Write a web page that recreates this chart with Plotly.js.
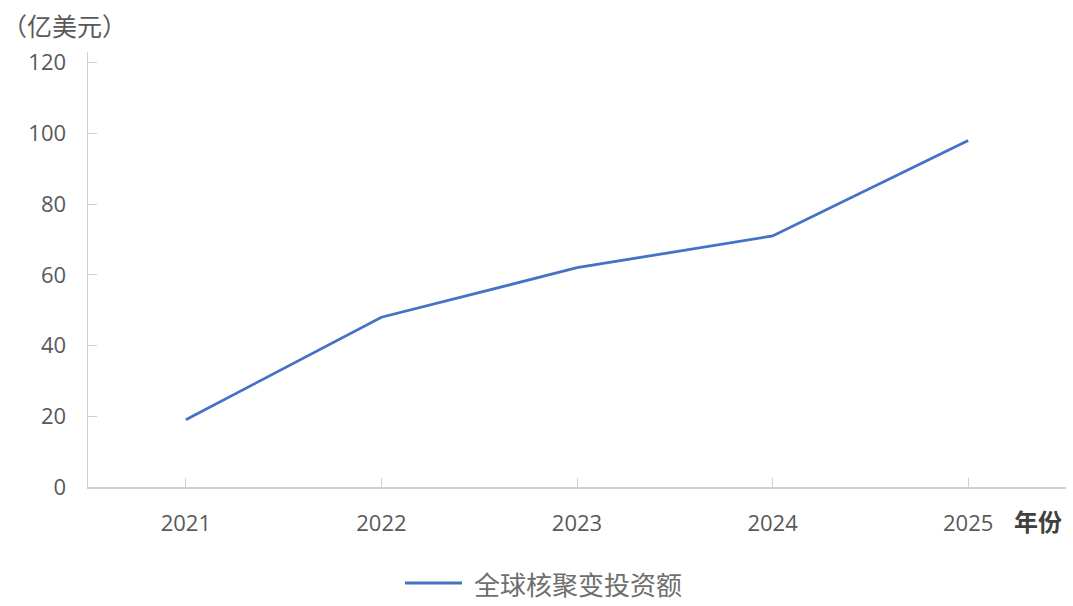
<!DOCTYPE html>
<html>
<head>
<meta charset="utf-8">
<script src="https://cdn.plot.ly/plotly-3.0.1.min.js"></script>
<style>html,body{margin:0;padding:0;background:#fff;}#chart{width:1073px;height:606px;}</style>
</head>
<body>
<div id="chart"></div>
<script>
var years = ["2021", "2022", "2023", "2024", "2025"];
var investment = [19, 48, 62, 71, 98];
var seriesName = "全球核聚变投资额";
var yTicks = [0, 20, 40, 60, 80, 100, 120];

var trace = {
  x: years,
  y: investment,
  type: "scatter",
  mode: "lines",
  name: seriesName,
  line: {color: "#4472C4", width: 2.8},
  showlegend: false
};

var layout = {
  width: 1073,
  height: 606,
  margin: {l: 88, r: 7, t: 52, b: 119, autoexpand: false},
  paper_bgcolor: "#ffffff",
  plot_bgcolor: "#ffffff",
  font: {family: "'Open Sans', 'Noto Sans CJK SC', sans-serif", color: "#595959", size: 22},
  showlegend: false,
  xaxis: {
    type: "category",
    range: [-0.5, 4.5],
    showline: true,
    linecolor: "#d0d0d0",
    linewidth: 1.5,
    showgrid: false,
    zeroline: false,
    ticks: "inside",
    ticklen: 9,
    tickcolor: "#d0d0d0",
    tickwidth: 1,
    ticklabelstandoff: 16,
    tickfont: {size: 22, color: "#595959"},
    fixedrange: true
  },
  yaxis: {
    range: [0, 123],
    tickvals: yTicks,
    ticktext: yTicks.map(String),
    showline: true,
    linecolor: "#d0d0d0",
    linewidth: 1.5,
    showgrid: false,
    zeroline: false,
    ticks: "inside",
    ticklen: 9,
    tickcolor: "#d0d0d0",
    tickwidth: 1,
    ticklabelstandoff: 16,
    tickfont: {size: 22, color: "#595959"},
    fixedrange: true
  },
  shapes: [
    {
      type: "line",
      xref: "paper", yref: "paper",
      x0: 0.3241, x1: 0.3824, y0: -0.2207, y1: -0.2207,
      line: {color: "#4472C4", width: 3}
    }
  ],
  annotations: [
    {
      text: seriesName,
      xref: "paper", yref: "paper",
      x: 0.3926, y: -0.2207,
      xanchor: "left", yanchor: "middle",
      showarrow: false,
      font: {size: 26, color: "#6e6e6e", family: "'Noto Sans CJK SC', sans-serif"}
    },
    {
      text: "（亿美元）",
      xref: "paper", yref: "paper",
      x: -0.09, y: 1.062,
      xanchor: "left", yanchor: "middle",
      showarrow: false,
      font: {size: 25, color: "#595959", family: "'Noto Sans CJK SC', sans-serif"}
    },
    {
      text: "<b>年份</b>",
      xref: "paper", yref: "paper",
      x: 0.971, y: -0.076,
      xanchor: "center", yanchor: "middle",
      showarrow: false,
      font: {size: 24, color: "#404040", family: "'Noto Sans CJK SC', sans-serif"}
    }
  ]
};

Plotly.newPlot("chart", [trace], layout, {displayModeBar: false, staticPlot: true});
</script>
</body>
</html>
